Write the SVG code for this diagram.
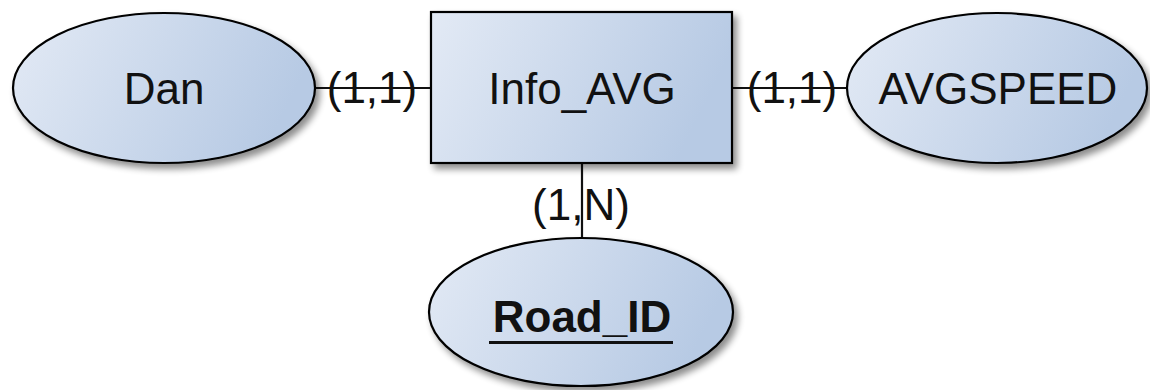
<svg xmlns="http://www.w3.org/2000/svg" width="1150" height="390" viewBox="0 0 1150 390">
<style>
.shape{fill:url(#g);stroke:#000;stroke-width:2.2;filter:url(#sh)}
.t{font-family:"Liberation Sans",Arial,sans-serif;font-size:44px;fill:#111;text-anchor:middle}
.b{font-weight:bold}
.line{stroke:#111;stroke-width:2.2;fill:none}
</style>
<defs>
<linearGradient id="g" x1="0" y1="0" x2="1" y2="0.25">
<stop offset="0" stop-color="#e3eaf5"/>
<stop offset="1" stop-color="#b7cae4"/>
</linearGradient>
<filter id="sh" x="-10%" y="-10%" width="130%" height="130%">
<feGaussianBlur in="SourceAlpha" stdDeviation="3.5"/>
<feOffset dx="4" dy="5" result="o"/>
<feComponentTransfer><feFuncA type="linear" slope="0.45"/></feComponentTransfer>
<feMerge><feMergeNode/><feMergeNode in="SourceGraphic"/></feMerge>
</filter>
</defs>
<g id="connectors">
<line class="line" x1="315" y1="88" x2="431" y2="88"/>
<line class="line" x1="732" y1="88" x2="848" y2="88"/>
<line class="line" x1="582" y1="163" x2="582" y2="238"/>
<text class="t" x="372" y="103">(1,1)</text>
<text class="t" x="792" y="103">(1,1)</text>
<text class="t" x="581" y="220">(1,N)</text>
</g>
<g id="Dan">
<ellipse class="shape" cx="164" cy="88" rx="151" ry="75"/>
<text class="t" x="164" y="104">Dan</text>
</g>
<g id="Info_AVG">
<rect class="shape" x="431" y="12" width="301" height="151"/>
<text class="t" x="582" y="104">Info_AVG</text>
</g>
<g id="AVGSPEED">
<ellipse class="shape" cx="997" cy="88" rx="150" ry="75"/>
<text class="t" x="998" y="104">AVGSPEED</text>
</g>
<g id="Road_ID">
<ellipse class="shape" cx="581" cy="312" rx="152" ry="74"/>
<text class="t b" x="582" y="332">Road_ID</text>
<line x1="489" y1="342.5" x2="673" y2="342.5" stroke="#111" stroke-width="3"/>
</g>
</svg>
